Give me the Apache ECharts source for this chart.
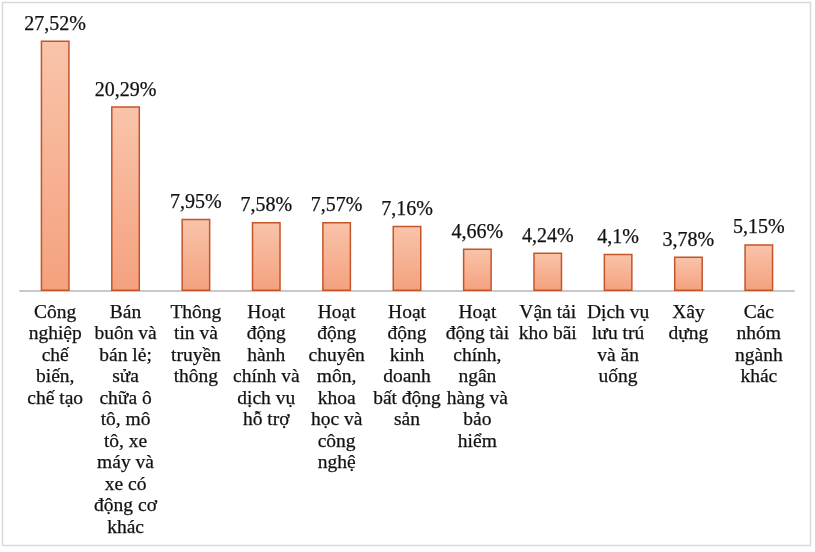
<!DOCTYPE html>
<html>
<head>
<meta charset="utf-8">
<script src="https://cdn.jsdelivr.net/npm/echarts@6/dist/echarts.min.js"></script>
<style>html,body{margin:0;padding:0;background:#fff;}#c{width:815px;height:552px;}</style>
</head>
<body>
<div id="c"></div>
<script>
const categories = [
  "Công\nnghiệp\nchế\nbiến,\nchế tạo",
  "Bán\nbuôn và\nbán lẻ;\nsửa\nchữa ô\ntô, mô\ntô, xe\nmáy và\nxe có\nđộng cơ\nkhác",
  "Thông\ntin và\ntruyền\nthông",
  "Hoạt\nđộng\nhành\nchính và\ndịch vụ\nhỗ trợ",
  "Hoạt\nđộng\nchuyên\nmôn,\nkhoa\nhọc và\ncông\nnghệ",
  "Hoạt\nđộng\nkinh\ndoanh\nbất động\nsản",
  "Hoạt\nđộng tài\nchính,\nngân\nhàng và\nbảo\nhiểm",
  "Vận tải\nkho bãi",
  "Dịch vụ\nlưu trú\nvà ăn\nuống",
  "Xây\ndựng",
  "Các\nnhóm\nngành\nkhác"
];
const values = [27.52, 20.29, 7.95, 7.58, 7.57, 7.16, 4.66, 4.24, 4.1, 3.78, 5.15];
const valueLabels = ["27,52%", "20,29%", "7,95%", "7,58%", "7,57%", "7,16%", "4,66%", "4,24%", "4,1%", "3,78%", "5,15%"];

const chart = echarts.init(document.getElementById('c'));
chart.setOption({
  animation: false,
  backgroundColor: '#fff',
  graphic: [{
    type: 'rect', shape: {x: 2.5, y: 2.5, width: 808, height: 543},
    style: {fill: 'none', stroke: '#d9d9d9', lineWidth: 1.5}, silent: true, z: -1
  }],
  grid: {left: 20, right: 21, top: 18, bottom: 261, containLabel: false},
  xAxis: {
    type: 'category', data: categories,
    axisLine: {lineStyle: {color: '#c8c8c8', width: 2}},
    axisTick: {show: false},
    axisLabel: {
      interval: 0, margin: 11,
      fontFamily: 'Liberation Serif', fontSize: 19.5, color: '#111',
      textBorderColor: '#111', textBorderWidth: 0.25,
      lineHeight: 21.5, align: 'center'
    }
  },
  yAxis: {type: 'value', min: 0, max: 30, show: false, splitLine: {show: false}},
  series: [{
    type: 'bar', data: values, barWidth: 29,
    itemStyle: {
      color: new echarts.graphic.LinearGradient(0, 0, 0, 1, [
        {offset: 0, color: '#f9c4aa'}, {offset: 1, color: '#f4a17e'}
      ]),
      borderColor: '#c4552a', borderWidth: 1.5
    },
    label: {
      show: true, position: 'top', distance: 6,
      fontFamily: 'Liberation Serif', fontSize: 20, color: '#111',
      textBorderColor: '#111', textBorderWidth: 0.25,
      formatter: p => valueLabels[p.dataIndex]
    }
  }]
});
</script>
</body>
</html>
